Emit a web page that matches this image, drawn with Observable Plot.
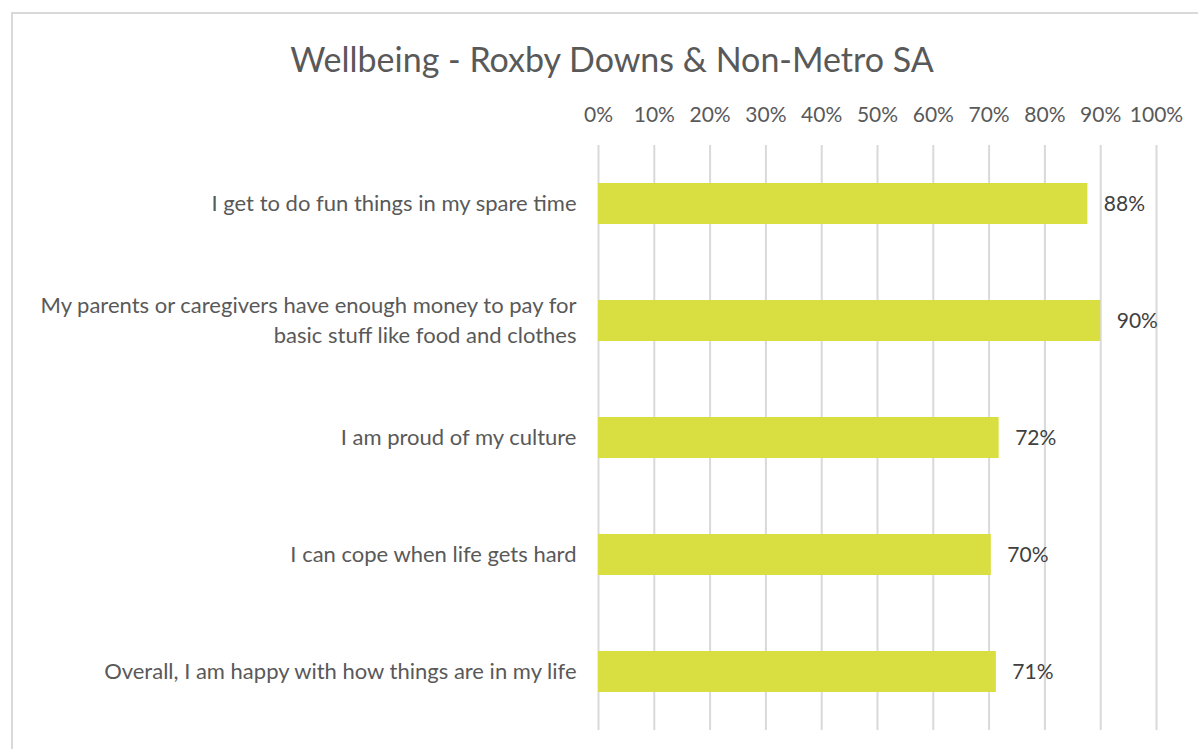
<!DOCTYPE html>
<html>
<head>
<meta charset="utf-8">
<script src="https://cdn.jsdelivr.net/npm/d3@7"></script>
<script src="https://cdn.jsdelivr.net/npm/@observablehq/plot@0.6"></script>
<style>
  html, body { margin: 0; padding: 0; background: #fff; }
  #wrap { position: relative; width: 1198px; height: 749px; overflow: hidden; font-family: Lato, "Open Sans", sans-serif; }
  #border { position: absolute; left: 11px; top: 12px; width: 1300px; height: 900px; border: 2px solid #d9d9d9; box-sizing: border-box; }
  #title { position: absolute; left: 12px; width: 1200px; top: 36px; text-align: center; font-size: 34px; color: #595959; line-height: 46px; white-space: nowrap; }
  #chart { position: absolute; left: 0; top: 90px; }
</style>
</head>
<body>
<div id="wrap">
  <div id="border"></div>
  <div id="title">Wellbeing - Roxby Downs &amp; Non-Metro SA</div>
  <div id="chart"></div>
</div>
<script>
const categories = [
  "I get to do fun things in my spare time",
  "My parents or caregivers have enough money to pay for\nbasic stuff like food and clothes",
  "I am proud of my culture",
  "I can cope when life gets hard",
  "Overall, I am happy with how things are in my life"
];
const values = [87.7, 90.0, 71.8, 70.4, 71.3];
const valueLabels = ["88%", "90%", "72%", "70%", "71%"];
const xTicks = [0, 10, 20, 30, 40, 50, 60, 70, 80, 90, 100];

const data = categories.map((c, i) => ({category: c, value: values[i], label: valueLabels[i]}));

const plot = Plot.plot({
  width: 1198,
  height: 659,
  marginLeft: 598,
  marginRight: 42,
  marginTop: 55,
  marginBottom: 19,
  style: {background: "transparent", fontFamily: "Lato, 'Open Sans', sans-serif"},
  x: {domain: [0, 100]},
  y: {domain: categories, paddingInner: 0.65, paddingOuter: 0.325},
  marks: [
    Plot.gridX(xTicks, {stroke: "#d9d9d9", strokeOpacity: 1, strokeWidth: 2}),
    Plot.barX(data, {y: "category", x: "value", fill: "#d9df41"}),
    Plot.text(data, {y: "category", x: "value", text: "label", textAnchor: "start", dx: 16, fill: "#404040", fontSize: 21}),
    Plot.axisX({anchor: "top", ticks: xTicks, tickFormat: d => d + "%", tickSize: 0, tickPadding: 24, fontSize: 21, color: "#595959", label: null}),
    Plot.axisY({anchor: "left", tickSize: 0, tickPadding: 22, fontSize: 22, color: "#595959", lineHeight: 1.36, dy: -3, label: null})
  ]
});
document.getElementById("chart").appendChild(plot);
</script>
</body>
</html>
